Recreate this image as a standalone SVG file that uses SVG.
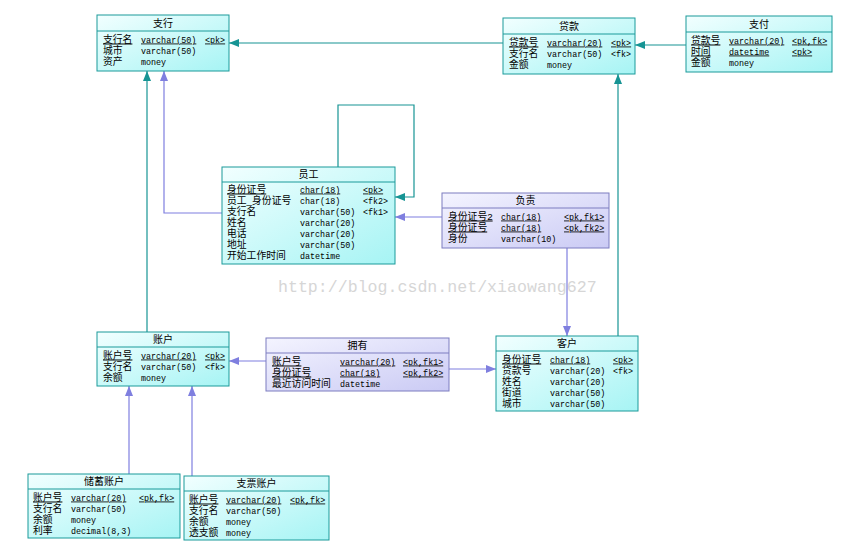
<svg xmlns="http://www.w3.org/2000/svg" width="859" height="551" viewBox="0 0 859 551">
<style>
.cy{fill:url(#gc);stroke:#1a9a9a;stroke-width:1}
.lv{fill:url(#gl);stroke:#7c7cc0;stroke-width:1}
.sc{stroke:#1a9a9a;stroke-width:1}
.sl{stroke:#7c7cc0;stroke-width:1}
.t{font-family:"Liberation Sans","Noto Sans CJK SC","Noto Sans CJK JP",sans-serif;font-size:10px;text-anchor:middle;fill:#000}
.n{font-family:"Liberation Sans","Noto Sans CJK SC","Noto Sans CJK JP",sans-serif;font-size:9.8px;fill:#000}
.m{font-family:"Liberation Mono","DejaVu Sans Mono",monospace;font-size:8.4px;fill:#000}
.u{text-decoration:underline}
.ct{fill:none;stroke:#169494;stroke-width:1.2}
.cp{fill:none;stroke:#7f7fdf;stroke-width:1.2}
.wm{font-family:"Liberation Mono","DejaVu Sans Mono",monospace;font-size:16.6px;fill:#d6d6d6}
</style>
<defs>
<linearGradient id="gc" x1="0" y1="0" x2="1" y2="1">
<stop offset="0" stop-color="#f2ffff"/><stop offset="1" stop-color="#a6f4f4"/>
</linearGradient>
<linearGradient id="gl" x1="0" y1="0" x2="1" y2="1">
<stop offset="0" stop-color="#f4f4ff"/><stop offset="1" stop-color="#cacaf4"/>
</linearGradient>
<marker id="at" viewBox="0 0 10 8" refX="10" refY="4" markerWidth="10" markerHeight="8" markerUnits="userSpaceOnUse" orient="auto">
<path d="M0,0 L10,4 L0,8 Z" fill="#169494"/>
</marker>
<marker id="ap" viewBox="0 0 10 8" refX="10" refY="4" markerWidth="10" markerHeight="8" markerUnits="userSpaceOnUse" orient="auto">
<path d="M0,0 L10,4 L0,8 Z" fill="#7f7fdf"/>
</marker>
</defs>
<rect x="0" y="0" width="859" height="551" fill="#fff"/>
<text class="wm" x="278" y="292">http://blog.csdn.net/xiaowang627</text>

<g id="connectors">
<path class="ct" d="M503,43 H229" marker-end="url(#at)"/>
<path class="ct" d="M686,45 H635" marker-end="url(#at)"/>
<path class="ct" d="M147,332 V71" marker-end="url(#at)"/>
<path class="cp" d="M222,213 H164 V71" marker-end="url(#ap)"/>
<path class="ct" d="M338,167 V105 H414 V197 H395" marker-end="url(#at)"/>
<path class="cp" d="M442,217 H395" marker-end="url(#ap)"/>
<path class="cp" d="M567,248 V336" marker-end="url(#ap)"/>
<path class="ct" d="M618,336 V74" marker-end="url(#at)"/>
<path class="cp" d="M266,361 H229" marker-end="url(#ap)"/>
<path class="cp" d="M449,369 H496" marker-end="url(#ap)"/>
<path class="cp" d="M129,474 V386" marker-end="url(#ap)"/>
<path class="cp" d="M192,476 V386" marker-end="url(#ap)"/>
</g>

<g id="zhihang">
<rect class="cy" x="97" y="15" width="132" height="56"/>
<line class="sc" x1="97" y1="31" x2="229" y2="31"/>
<text class="t" x="163" y="26.5">支行</text>
<text class="n"><tspan class="u" x="103" y="42.5">支行名</tspan><tspan x="103" y="53.5">城市</tspan><tspan x="103" y="64.5">资产</tspan></text>
<text class="m"><tspan class="u" x="141" y="42.5">varchar(50)</tspan><tspan x="141" y="53.5">varchar(50)</tspan><tspan x="141" y="64.5">money</tspan></text>
<text class="m"><tspan class="u" x="205" y="42.5">&lt;pk&gt;</tspan></text>
</g>

<g id="daikuan">
<rect class="cy" x="503" y="18" width="132" height="56"/>
<line class="sc" x1="503" y1="34" x2="635" y2="34"/>
<text class="t" x="569" y="29.5">贷款</text>
<text class="n"><tspan class="u" x="509" y="45.5">贷款号</tspan><tspan x="509" y="56.5">支行名</tspan><tspan x="509" y="67.5">金额</tspan></text>
<text class="m"><tspan class="u" x="547" y="45.5">varchar(20)</tspan><tspan x="547" y="56.5">varchar(50)</tspan><tspan x="547" y="67.5">money</tspan></text>
<text class="m"><tspan class="u" x="611" y="45.5">&lt;pk&gt;</tspan><tspan x="611" y="56.5">&lt;fk&gt;</tspan></text>
</g>

<g id="zhifu">
<rect class="cy" x="686" y="16" width="146" height="56"/>
<line class="sc" x1="686" y1="32" x2="832" y2="32"/>
<text class="t" x="759" y="27.5">支付</text>
<text class="n"><tspan class="u" x="691" y="43.5">贷款号</tspan><tspan class="u" x="691" y="54.5">时间</tspan><tspan x="691" y="65.5">金额</tspan></text>
<text class="m"><tspan class="u" x="729" y="43.5">varchar(20)</tspan><tspan class="u" x="729" y="54.5">datetime</tspan><tspan x="729" y="65.5">money</tspan></text>
<text class="m"><tspan class="u" x="792" y="43.5">&lt;pk,fk&gt;</tspan><tspan class="u" x="792" y="54.5">&lt;pk&gt;</tspan></text>
</g>

<g id="yuangong">
<rect class="cy" x="222" y="167" width="173" height="97"/>
<line class="sc" x1="222" y1="182" x2="395" y2="182"/>
<text class="t" x="308.5" y="178">员工</text>
<text class="n"><tspan class="u" x="227" y="192.5">身份证号</tspan><tspan x="227" y="203.5">员工_身份证号</tspan><tspan x="227" y="214.5">支行名</tspan><tspan x="227" y="225.5">姓名</tspan><tspan x="227" y="236.5">电话</tspan><tspan x="227" y="247.5">地址</tspan><tspan x="227" y="258.5">开始工作时间</tspan></text>
<text class="m"><tspan class="u" x="300" y="192.5">char(18)</tspan><tspan x="300" y="203.5">char(18)</tspan><tspan x="300" y="214.5">varchar(50)</tspan><tspan x="300" y="225.5">varchar(20)</tspan><tspan x="300" y="236.5">varchar(20)</tspan><tspan x="300" y="247.5">varchar(50)</tspan><tspan x="300" y="258.5">datetime</tspan></text>
<text class="m"><tspan class="u" x="363" y="192.5">&lt;pk&gt;</tspan><tspan x="363" y="203.5">&lt;fk2&gt;</tspan><tspan x="363" y="214.5">&lt;fk1&gt;</tspan></text>
</g>

<g id="fuze">
<rect class="lv" x="442" y="193" width="167" height="55"/>
<line class="sl" x1="442" y1="208" x2="609" y2="208"/>
<text class="t" x="525.5" y="204">负责</text>
<text class="n"><tspan class="u" x="448" y="219.5">身份证号2</tspan><tspan class="u" x="448" y="230.5">身份证号</tspan><tspan x="448" y="241.5">身份</tspan></text>
<text class="m"><tspan class="u" x="501" y="219.5">char(18)</tspan><tspan class="u" x="501" y="230.5">char(18)</tspan><tspan x="501" y="241.5">varchar(10)</tspan></text>
<text class="m"><tspan class="u" x="564" y="219.5">&lt;pk,fk1&gt;</tspan><tspan class="u" x="564" y="230.5">&lt;pk,fk2&gt;</tspan></text>
</g>

<g id="zhanghu">
<rect class="cy" x="97" y="332" width="132" height="54"/>
<line class="sc" x1="97" y1="347" x2="229" y2="347"/>
<text class="t" x="163" y="343">账户</text>
<text class="n"><tspan class="u" x="103" y="358.5">账户号</tspan><tspan x="103" y="369.5">支行名</tspan><tspan x="103" y="380.5">余额</tspan></text>
<text class="m"><tspan class="u" x="141" y="358.5">varchar(20)</tspan><tspan x="141" y="369.5">varchar(50)</tspan><tspan x="141" y="380.5">money</tspan></text>
<text class="m"><tspan class="u" x="205" y="358.5">&lt;pk&gt;</tspan><tspan x="205" y="369.5">&lt;fk&gt;</tspan></text>
</g>

<g id="yongyou">
<rect class="lv" x="266" y="338" width="183" height="53"/>
<line class="sl" x1="266" y1="353" x2="449" y2="353"/>
<text class="t" x="357.5" y="349">拥有</text>
<text class="n"><tspan class="u" x="272" y="364.5">账户号</tspan><tspan class="u" x="272" y="375.5">身份证号</tspan><tspan x="272" y="386.5">最近访问时间</tspan></text>
<text class="m"><tspan class="u" x="340" y="364.5">varchar(20)</tspan><tspan class="u" x="340" y="375.5">char(18)</tspan><tspan x="340" y="386.5">datetime</tspan></text>
<text class="m"><tspan class="u" x="403" y="364.5">&lt;pk,fk1&gt;</tspan><tspan class="u" x="403" y="375.5">&lt;pk,fk2&gt;</tspan></text>
</g>

<g id="kehu">
<rect class="cy" x="496" y="336" width="142" height="75"/>
<line class="sc" x1="496" y1="351" x2="638" y2="351"/>
<text class="t" x="567" y="347">客户</text>
<text class="n"><tspan class="u" x="502" y="362.5">身份证号</tspan><tspan x="502" y="373.5">贷款号</tspan><tspan x="502" y="384.5">姓名</tspan><tspan x="502" y="395.5">街道</tspan><tspan x="502" y="406.5">城市</tspan></text>
<text class="m"><tspan class="u" x="550" y="362.5">char(18)</tspan><tspan x="550" y="373.5">varchar(20)</tspan><tspan x="550" y="384.5">varchar(20)</tspan><tspan x="550" y="395.5">varchar(50)</tspan><tspan x="550" y="406.5">varchar(50)</tspan></text>
<text class="m"><tspan class="u" x="613" y="362.5">&lt;pk&gt;</tspan><tspan x="613" y="373.5">&lt;fk&gt;</tspan></text>
</g>

<g id="chuxu">
<rect class="cy" x="28" y="474" width="152" height="64"/>
<line class="sc" x1="28" y1="489" x2="180" y2="489"/>
<text class="t" x="104" y="485">储蓄账户</text>
<text class="n"><tspan class="u" x="33" y="500.5">账户号</tspan><tspan x="33" y="511.5">支行名</tspan><tspan x="33" y="522.5">余额</tspan><tspan x="33" y="533.5">利率</tspan></text>
<text class="m"><tspan class="u" x="71" y="500.5">varchar(20)</tspan><tspan x="71" y="511.5">varchar(50)</tspan><tspan x="71" y="522.5">money</tspan><tspan x="71" y="533.5">decimal(8,3)</tspan></text>
<text class="m"><tspan class="u" x="139" y="500.5">&lt;pk,fk&gt;</tspan></text>
</g>

<g id="zhipiao">
<rect class="cy" x="184" y="476" width="145" height="64"/>
<line class="sc" x1="184" y1="491" x2="329" y2="491"/>
<text class="t" x="256.5" y="487">支票账户</text>
<text class="n"><tspan class="u" x="189" y="502.5">账户号</tspan><tspan x="189" y="513.5">支行名</tspan><tspan x="189" y="524.5">余额</tspan><tspan x="189" y="535.5">透支额</tspan></text>
<text class="m"><tspan class="u" x="226" y="502.5">varchar(20)</tspan><tspan x="226" y="513.5">varchar(50)</tspan><tspan x="226" y="524.5">money</tspan><tspan x="226" y="535.5">money</tspan></text>
<text class="m"><tspan class="u" x="290" y="502.5">&lt;pk,fk&gt;</tspan></text>
</g>
</svg>
